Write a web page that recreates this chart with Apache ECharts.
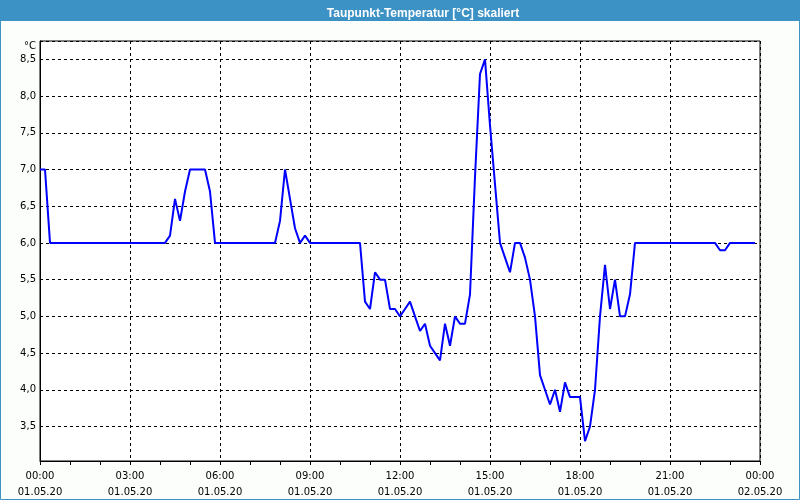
<!DOCTYPE html>
<html><head><meta charset="utf-8">
<script src="https://cdn.jsdelivr.net/npm/echarts@6/dist/echarts.min.js"></script>
<style>html,body{margin:0;padding:0;background:#fcfefc}#c{width:800px;height:500px}</style>
</head><body><div id="c"></div>
<script>
const titleText = 'Taupunkt-Temperatur [°C] skaliert';
const unitLabel = '°C';
const stepMinutes = 10;
// dew point every 10 minutes, 01.05.20 00:00 .. 23:50
const dewPoint = [
  7.0,7.0,6.0,6.0,6.0,6.0,6.0,6.0,6.0,6.0,6.0,6.0,   // 00:00-01:50
  6.0,6.0,6.0,6.0,6.0,6.0,6.0,6.0,6.0,6.0,6.0,6.0,   // 02:00-03:50
  6.0,6.0,6.1,6.6,6.3,6.7,7.0,7.0,7.0,7.0,6.7,6.0,   // 04:00-05:50
  6.0,6.0,6.0,6.0,6.0,6.0,6.0,6.0,6.0,6.0,6.0,6.0,   // 06:00-07:50
  6.3,7.0,6.6,6.2,6.0,6.1,6.0,6.0,6.0,6.0,6.0,6.0,   // 08:00-09:50
  6.0,6.0,6.0,6.0,6.0,5.2,5.1,5.6,5.5,5.5,5.1,5.1,   // 10:00-11:50
  5.0,5.1,5.2,5.0,4.8,4.9,4.6,4.5,4.4,4.9,4.6,5.0,   // 12:00-13:50
  4.9,4.9,5.3,6.9,8.3,8.5,7.6,6.8,6.0,5.8,5.6,6.0,   // 14:00-15:50
  6.0,5.8,5.5,5.0,4.2,4.0,3.8,4.0,3.7,4.1,3.9,3.9,   // 16:00-17:50
  3.9,3.3,3.5,4.0,5.0,5.7,5.1,5.5,5.0,5.0,5.3,6.0,   // 18:00-19:50
  6.0,6.0,6.0,6.0,6.0,6.0,6.0,6.0,6.0,6.0,6.0,6.0,   // 20:00-21:50
  6.0,6.0,6.0,6.0,5.9,5.9,6.0,6.0,6.0,6.0,6.0,6.0    // 22:00-23:50
];
const xTickLabels = [
  '00:00\n01.05.20','03:00\n01.05.20','06:00\n01.05.20','09:00\n01.05.20',
  '12:00\n01.05.20','15:00\n01.05.20','18:00\n01.05.20','21:00\n01.05.20','00:00\n02.05.20'
];
const yMin = 3.03, yMax = 8.75;

const font = '"DejaVu Sans", sans-serif';
const chart = echarts.init(document.getElementById('c'), null, {renderer: 'canvas'});
chart.setOption({
  animation: false,
  backgroundColor: '#fcfefc',
  title: {
    text: titleText, left: 418, top: 3, textAlign: 'center',
    textStyle: {color: '#ffffff', fontSize: 12, fontWeight: 'bold', fontFamily: '"Liberation Sans", sans-serif'}
  },
  graphic: [
    {type: 'rect', z: -10, shape: {x: 0, y: 0, width: 800, height: 21}, style: {fill: '#3d92c5'}},
    {type: 'rect', z: 100, shape: {x: 0.5, y: 0.5, width: 799, height: 499}, style: {fill: 'none', stroke: '#3d92c5', lineWidth: 1}}
  ],
  grid: {left: 40, right: 40, top: 41, bottom: 39, show: true, borderColor: '#000', borderWidth: 1, backgroundColor: '#ffffff'},
  xAxis: {
    type: 'value', min: 0, max: 1440, interval: 180,
    axisLine: {lineStyle: {color: '#000', width: 1}},
    axisTick: {show: true, length: 4, lineStyle: {color: '#000'}},
    minorTick: {show: true, splitNumber: 3, length: 4, lineStyle: {color: '#000'}},
    axisLabel: {formatter: v => xTickLabels[Math.round(v / 180)], color: '#000', fontFamily: font, fontSize: 10, lineHeight: 16, margin: 7},
    splitLine: {show: true, lineStyle: {color: '#000', type: [3, 3]}}
  },
  yAxis: {
    type: 'value', min: yMin, max: yMax, splitNumber: 11,
    name: unitLabel, nameLocation: 'end', nameGap: -5,
    nameTextStyle: {align: 'right', verticalAlign: 'middle', padding: [0, 4, 0, 0], color: '#000', fontFamily: font, fontSize: 10},
    axisLine: {show: true, lineStyle: {color: '#000', width: 1}},
    axisTick: {show: false},
    axisLabel: {showMinLabel: false, showMaxLabel: false, formatter: v => v.toFixed(1).replace('.', ','), color: '#000', fontFamily: font, fontSize: 10, margin: 4},
    splitLine: {show: true, lineStyle: {color: '#000', type: [3, 3]}}
  },
  series: [{
    type: 'line', showSymbol: false, symbol: 'none',
    data: dewPoint.map((v, i) => [i * stepMinutes, v]),
    lineStyle: {color: '#0000ff', width: 2}
  }]
});
</script></body></html>
